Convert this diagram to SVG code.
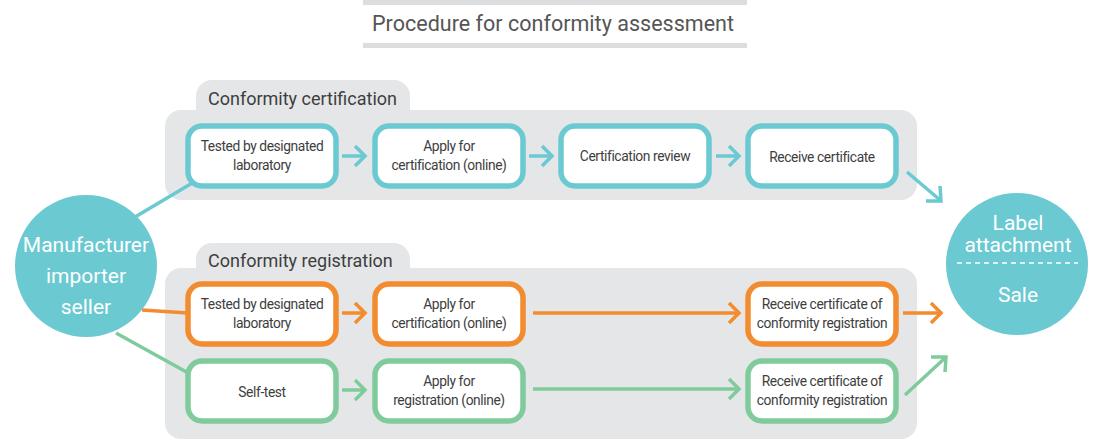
<svg xmlns="http://www.w3.org/2000/svg" width="1097" height="447" viewBox="0 0 1097 447">
<style>
.panel{fill:#e5e6e8}
.box{fill:#fff;stroke-width:5.5}
.t{stroke:#6bc9d2}
.o{stroke:#f28c2e}
.g{stroke:#80cb9b}
.bt{font-family:Roboto,"Liberation Sans",sans-serif;font-size:13.8px;fill:#3e3e3e;text-anchor:middle;letter-spacing:-0.4px}
.sec{font-family:Roboto,"Liberation Sans",sans-serif;font-size:18px;fill:#3e3e3e}
.ct{font-family:Roboto,"Liberation Sans",sans-serif;font-size:21px;fill:#fff;text-anchor:middle}
.ln{fill:none;stroke-width:3.5;stroke-linecap:butt}
.hd{fill:none;stroke-width:3.5;stroke-linejoin:miter}
</style>
<rect x="0" y="0" width="1097" height="447" fill="#fff"/>
<g id="title">
<rect x="363" y="0" width="384" height="5" fill="#dcdddf"/>
<rect x="363" y="43" width="384" height="5" fill="#dcdddf"/>
<text x="553" y="31" font-family="Roboto,'Liberation Sans',sans-serif" font-size="21.5" fill="#555" text-anchor="middle" textLength="362">Procedure for conformity assessment</text>
</g>
<g id="panel-certification">
<rect class="panel" x="196" y="80" width="214" height="60" rx="16"/>
<rect class="panel" x="165" y="110" width="752" height="90" rx="16"/>
<text class="sec" x="208" y="105">Conformity certification</text>
</g>
<g id="panel-registration">
<rect class="panel" x="196" y="243" width="214" height="60" rx="16"/>
<rect class="panel" x="165" y="268" width="752" height="171" rx="16"/>
<text class="sec" x="208" y="267">Conformity registration</text>
</g>
<g id="connectors">
<line class="ln t" x1="135" y1="217" x2="194" y2="182"/>
<line class="ln o" x1="142" y1="310" x2="188" y2="313"/>
<line class="ln g" x1="116" y1="333" x2="190" y2="374"/>
<line class="ln t" x1="342" y1="156" x2="364" y2="156"/><polyline class="hd t" points="355,146 365,156 355,166"/>
<line class="ln t" x1="529" y1="156" x2="551" y2="156"/><polyline class="hd t" points="542,146 552,156 542,166"/>
<line class="ln t" x1="716" y1="156" x2="738" y2="156"/><polyline class="hd t" points="729,146 739,156 729,166"/>
<line class="ln t" x1="907" y1="172" x2="940" y2="200"/><polyline class="hd t" points="926,201 941,201 940,186"/>
<line class="ln o" x1="342" y1="313" x2="364" y2="313"/><polyline class="hd o" points="355,303 365,313 355,323"/>
<line class="ln o" x1="533" y1="313" x2="738" y2="313"/><polyline class="hd o" points="729,303 739,313 729,323"/>
<line class="ln o" x1="903" y1="313" x2="940" y2="313"/><polyline class="hd o" points="931,303 941,313 931,323"/>
<line class="ln g" x1="342" y1="390" x2="364" y2="390"/><polyline class="hd g" points="355,380 365,390 355,400"/>
<line class="ln g" x1="533" y1="389" x2="738" y2="389"/><polyline class="hd g" points="729,379 739,389 729,399"/>
<line class="ln g" x1="905" y1="395" x2="945" y2="358"/><polyline class="hd g" points="931,357 946,357 945,372"/>
</g>
<g id="manufacturer">
<circle cx="86" cy="266" r="71" fill="#6bc9d2"/>
<text class="ct" x="86" y="252">Manufacturer</text>
<text class="ct" x="86" y="283">importer</text>
<text class="ct" x="86" y="314">seller</text>
</g>
<g id="label-sale">
<circle cx="1017" cy="264" r="71" fill="#6bc9d2"/>
<text class="ct" x="1018" y="230" font-size="19">Label</text>
<text class="ct" x="1018" y="252" font-size="19">attachment</text>
<line x1="957" y1="263" x2="1078" y2="263" stroke="#fff" stroke-width="1.5" stroke-dasharray="5,4"/>
<text class="ct" x="1018" y="302">Sale</text>
</g>
<g id="c1"><rect class="box t" x="188" y="126" width="148" height="60" rx="14"/><text class="bt" x="262" y="151">Tested by designated</text><text class="bt" x="262" y="170">laboratory</text></g>
<g id="c2"><rect class="box t" x="375" y="126" width="148" height="60" rx="14"/><text class="bt" x="449" y="151">Apply for</text><text class="bt" x="449" y="170">certification (online)</text></g>
<g id="c3"><rect class="box t" x="561" y="126" width="148" height="60" rx="14"/><text class="bt" x="635" y="161">Certification review</text></g>
<g id="c4"><rect class="box t" x="748" y="126" width="148" height="60" rx="14"/><text class="bt" x="822" y="162">Receive certificate</text></g>
<g id="r1"><rect class="box o" x="188" y="284" width="148" height="60" rx="14"/><text class="bt" x="262" y="309">Tested by designated</text><text class="bt" x="262" y="328">laboratory</text></g>
<g id="r2"><rect class="box o" x="375" y="284" width="148" height="60" rx="14"/><text class="bt" x="449" y="309">Apply for</text><text class="bt" x="449" y="328">certification (online)</text></g>
<g id="r3"><rect class="box o" x="748" y="284" width="148" height="60" rx="14"/><text class="bt" x="822" y="309">Receive certificate of</text><text class="bt" x="822" y="328">conformity registration</text></g>
<g id="s1"><rect class="box g" x="188" y="361" width="148" height="60" rx="14"/><text class="bt" x="262" y="397">Self-test</text></g>
<g id="s2"><rect class="box g" x="375" y="361" width="148" height="60" rx="14"/><text class="bt" x="449" y="386">Apply for</text><text class="bt" x="449" y="405">registration (online)</text></g>
<g id="s3"><rect class="box g" x="748" y="361" width="148" height="60" rx="14"/><text class="bt" x="822" y="386">Receive certificate of</text><text class="bt" x="822" y="405">conformity registration</text></g>
</svg>
